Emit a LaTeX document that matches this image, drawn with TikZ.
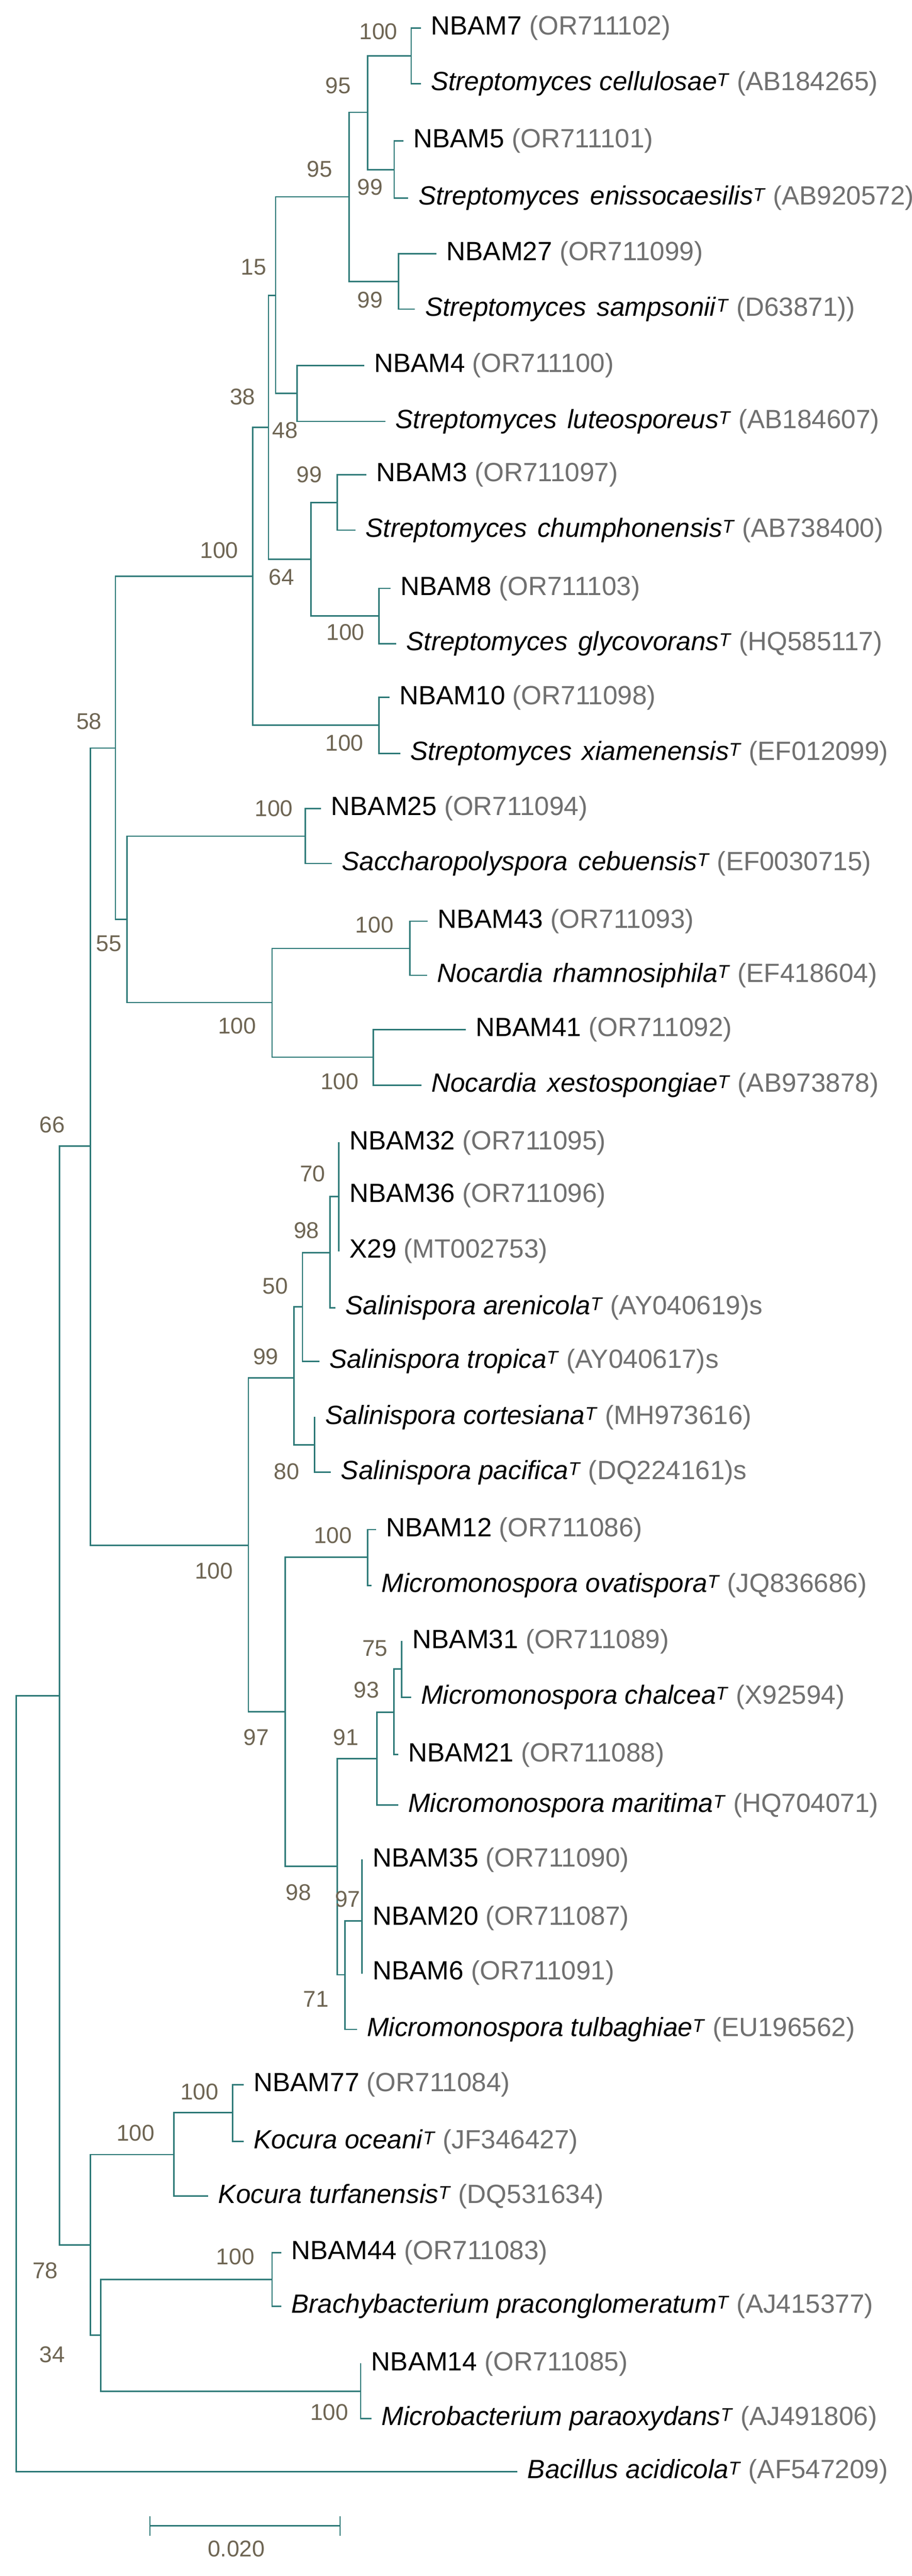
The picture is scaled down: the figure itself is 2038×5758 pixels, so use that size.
\documentclass[tikz,border=0pt]{standalone}
\usepackage{fontspec}
\setmainfont{Liberation Sans}
\definecolor{br}{HTML}{2E7A78}
\definecolor{bs}{HTML}{6E6553}
\definecolor{acc}{HTML}{707070}
\newcommand\lf[4]{\coordinate (#1) at (#2,#3); \node[leaf] (#1t) at (#1) {#4};}
\newcommand\acn[1]{\textcolor{acc}{(#1)}}
\newcommand\spn[2]{\textit{#1}\textsuperscript{\textit{T}} \acn{#2}}
\newcommand\dsp{\hspace{0.12em} }
\begin{document}
\begin{tikzpicture}[x=1pt,y=-1pt,
  leaf/.style={anchor=west,inner sep=0pt,xshift=24pt,font=\fontsize{59}{68}\selectfont},
  bs/.style={text=bs,inner sep=0pt,font=\fontsize{51}{60}\selectfont},
  edge/.style={draw=br,line width=3.2pt,line cap=rect}]
\useasboundingbox (0,0) rectangle (2038,5758);
% leaves
\lf{l1}{939}{63}{NBAM7 \acn{OR711102}}
\lf{l2}{939}{187}{\spn{Streptomyces cellulosae}{AB184265}}
\lf{l3}{900}{315}{NBAM5 \acn{OR711101}}
\lf{l4}{911}{443}{\spn{Streptomyces\dsp enissocaesilis}{AB920572}}
\lf{l5}{974}{567}{NBAM27 \acn{OR711099}}
\lf{l6}{926}{691}{\spn{Streptomyces\dsp sampsonii}{D63871)}}
\lf{l7}{812}{817}{NBAM4 \acn{OR711100}}
\lf{l8}{860}{942}{\spn{Streptomyces\dsp luteosporeus}{AB184607}}
\lf{l9}{817}{1061}{NBAM3 \acn{OR711097}}
\lf{l10}{793}{1185}{\spn{Streptomyces\dsp chumphonensis}{AB738400}}
\lf{l11}{871}{1315}{NBAM8 \acn{OR711103}}
\lf{l12}{884}{1439}{\spn{Streptomyces\dsp glycovorans}{HQ585117}}
\lf{l13}{869}{1559}{NBAM10 \acn{OR711098}}
\lf{l14}{893}{1684}{\spn{Streptomyces\dsp xiamenensis}{EF012099}}
\lf{l15}{716}{1807}{NBAM25 \acn{OR711094}}
\lf{l16}{740}{1930}{\spn{Saccharopolyspora\dsp cebuensis}{EF0030715}}
\lf{l17}{954}{2059}{NBAM43 \acn{OR711093}}
\lf{l18}{953}{2180}{\spn{Nocardia\dsp rhamnosiphila}{EF418604}}
\lf{l19}{1039}{2301}{NBAM41 \acn{OR711092}}
\lf{l20}{940}{2426}{\spn{Nocardia\dsp xestospongiae}{AB973878}}
\lf{l21}{757}{2555}{NBAM32 \acn{OR711095}}
\lf{l22}{757}{2672}{NBAM36 \acn{OR711096}}
\lf{l23}{757}{2796}{X29 \acn{MT002753}}
\lf{l24}{748}{2923}{\spn{Salinispora arenicola}{AY040619}\textcolor{acc}{s}}
\lf{l25}{712}{3043}{\spn{Salinispora tropica}{AY040617}\textcolor{acc}{s}}
\lf{l26}{703}{3168}{\spn{Salinispora cortesiana}{MH973616}}
\lf{l27}{738}{3291}{\spn{Salinispora pacifica}{DQ224161}\textcolor{acc}{s}}
\lf{l28}{839}{3419}{NBAM12 \acn{OR711086}}
\lf{l29}{829}{3544}{\spn{Micromonospora ovatispora}{JQ836686}}
\lf{l30}{898}{3669}{NBAM31 \acn{OR711089}}
\lf{l31}{917}{3794}{\spn{Micromonospora chalcea}{X92594}}
\lf{l32}{888}{3922}{NBAM21 \acn{OR711088}}
\lf{l33}{888}{4035}{\spn{Micromonospora maritima}{HQ704071}}
\lf{l34}{809}{4158}{NBAM35 \acn{OR711090}}
\lf{l35}{809}{4288}{NBAM20 \acn{OR711087}}
\lf{l36}{809}{4410}{NBAM6 \acn{OR711091}}
\lf{l37}{796}{4536}{\spn{Micromonospora tulbaghiae}{EU196562}}
\lf{l38}{543}{4660}{NBAM77 \acn{OR711084}}
\lf{l39}{543}{4787}{\spn{Kocura oceani}{JF346427}}
\lf{l40}{464}{4909}{\spn{Kocura turfanensis}{DQ531634}}
\lf{l41}{627}{5035}{NBAM44 \acn{OR711083}}
\lf{l42}{627}{5155}{\spn{Brachybacterium praconglomeratum}{AJ415377}}
\lf{l43}{806}{5284}{NBAM14 \acn{OR711085}}
\lf{l44}{829}{5406}{\spn{Microbacterium paraoxydans}{AJ491806}}
\lf{l45}{1155}{5525}{\spn{Bacillus acidicola}{AF547209}}
% internal nodes
\foreach \n/\x/\y in {c1/919/125,c2/881/379,c3/822/251,c4/891/629,c5/780/440,c6/664/879,
 c7/616/660,c8/754/1123,c9/847/1377,c10/695/1250,c11/600/955,c12/847/1621,c13/565/1288,
 c14/682/1869,c15/916/2120,c16/834/2363,c17/608/2241,c18/284/2055,c19/258/1672,
 s70/757/2675,s98/738/2800,s50/676/2921,s80/703/3230,s99/657/3080,
 mov/822/3481,m75/898/3731,m93/880/3827,m91/842/3931,m97/809/4294,m71/771/4414,
 m98/754/4172,mmic/637/3826,sal/555/3454,n58/202/2562,
 k77/520/4722,koc/389/4816,b44/608/5095,b14/806/5345,n34/225/5220,n78/202/5018,
 n66/133/3790,root/36/4657}
 \coordinate (\n) at (\x,\y);
\foreach \a/\b in {c1/l1,c1/l2,c2/l3,c2/l4,c3/c1,c3/c2,c4/l5,c4/l6,c5/c3,c5/c4,c6/l7,c6/l8,
 c7/c5,c7/c6,c8/l9,c8/l10,c9/l11,c9/l12,c10/c8,c10/c9,c11/c7,c11/c10,c12/l13,c12/l14,
 c13/c11,c13/c12,c14/l15,c14/l16,c15/l17,c15/l18,c16/l19,c16/l20,c17/c15,c17/c16,
 c18/c14,c18/c17,c19/c13,c19/c18,
 s70/l21,s70/l22,s70/l23,s98/s70,s98/l24,s50/s98,s50/l25,s80/l26,s80/l27,s99/s50,s99/s80,
 mov/l28,mov/l29,m75/l30,m75/l31,m93/m75,m93/l32,m91/m93,m91/l33,
 m97/l34,m97/l35,m97/l36,m71/m97,m71/l37,m98/m91,m98/m71,mmic/mov,mmic/m98,
 sal/s99,sal/mmic,n58/c19,n58/sal,
 k77/l38,k77/l39,koc/k77,koc/l40,b44/l41,b44/l42,b14/l43,b14/l44,n34/b44,n34/b14,
 n78/koc,n78/n34,n66/n58,n66/n78,root/n66,root/l45}
 \draw[edge] (\a) |- (\b);
% bootstrap values
\foreach \t/\x/\y [count=\i] in {100/846/70,95/756/191,99/827/418,95/714/378,99/827/671,
 15/567/597,38/542/887,48/637/962,99/691/1061,64/629/1290,100/772/1413,100/490/1230,
 100/770/1661,58/199/1612,100/612/1807,55/243/2109,100/837/2067,100/530/2293,100/759/2417,
 66/117/2514,70/699/2624,98/685/2750,50/615/2875,99/594/3032,80/641/3289,100/478/3512,
 100/744/3432,75/838/3685,93/819/3777,97/573/3883,91/773/3883,
 98/667/4230,97/777/4245,71/706/4468,100/446/4676,100/303/4768,78/101/5075,100/526/5044,
 34/117/5263,100/736/5392}
 \node[bs] (bv\i) at (\x,\y) {\t};
% scale bar
\coordinate (sb1) at (335,5646); \coordinate (sb2) at (760,5646);
\draw[edge,line cap=butt] (sb1) -- (sb2);
\draw[edge,line cap=butt] ([yshift=-22pt]sb1) -- ([yshift=22pt]sb1);
\draw[edge,line cap=butt] ([yshift=-22pt]sb2) -- ([yshift=22pt]sb2);
\node[bs] (sbl) at (528,5697) {0.020};
\end{tikzpicture}
\end{document}
